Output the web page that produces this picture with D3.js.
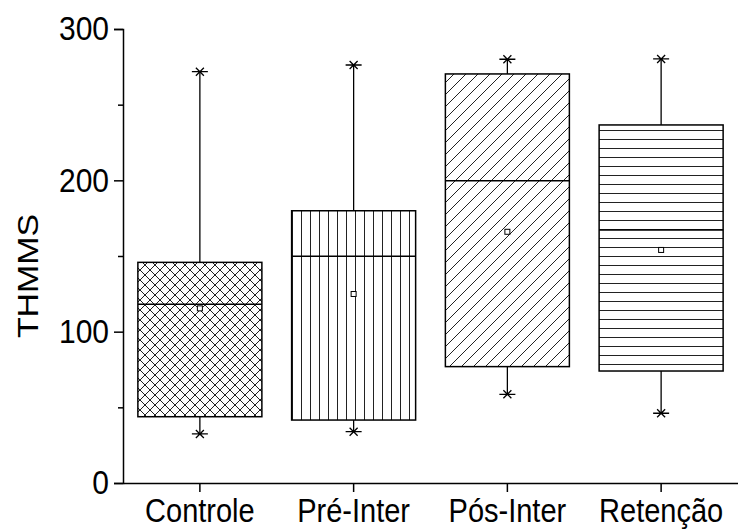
<!DOCTYPE html>
<html>
<head>
<meta charset="utf-8">
<script src="https://cdn.jsdelivr.net/npm/d3@7"></script>
<style>
  body { margin: 0; background: #fff; }
  text { font-family: "Liberation Sans", Arial, sans-serif; fill: #000; }
</style>
</head>
<body>
<svg id="chart" width="738" height="529"></svg>
<script>
// data
var groups = ["Controle", "Pré-Inter", "Pós-Inter", "Retenção"];
var minVals = [32.4, 33.9, 58.6, 46.1];
var q1Vals = [43.8, 41.6, 76.9, 74];
var medianVals = [118.1, 149.8, 199.8, 167.2];
var meanVals = [115.4, 124.9, 166, 154];
var q3Vals = [145.8, 179.9, 270.3, 236.6];
var maxVals = [271.8, 276.2, 280, 280.2];
var yTicks = [0, 100, 200, 300];
var yMinorTicks = [50, 150, 250];
var patternIds = ["cross", "vert", "diag", "horiz"];

var svg = d3.select('#chart');

var x = d3.scaleBand()
  .domain(groups)
  .range([123, 738]);

var y = d3.scaleLinear()
  .domain([0, 300])
  .range([483, 29]);

var boxW = 124;
var stretch = 1.13; // text in the original looks a bit tall

// hatch patterns
var defs = svg.append('defs');
var makePattern = function(id, size, paths){
  var p = defs.append('pattern')
    .attr('id', id)
    .attr('patternUnits', 'userSpaceOnUse')
    .attr('width', size)
    .attr('height', size);
  p.append('rect').attr('width', size).attr('height', size).attr('fill', '#fff');
  paths.forEach(function(d){
    p.append('path')
      .attr('d', d)
      .attr('stroke', '#222')
      .attr('stroke-width', 1)
      .attr('fill', 'none');
  });
}
makePattern('cross', 10, ['M0,0L10,10M-5,5L5,15M5,-5L15,5', 'M0,10L10,0M-5,5L5,-5M5,15L15,5']);
makePattern('vert', 9, ['M4.5,0V9']);
makePattern('diag', 12, ['M0,12L12,0M-6,6L6,-6M6,18L18,6']);
makePattern('horiz', 9, ['M0,4.5H9']);

var data = groups.map(function(g, i){
  return {name: g, min: minVals[i], q1: q1Vals[i], med: medianVals[i],
    mean: meanVals[i], q3: q3Vals[i], max: maxVals[i], pat: patternIds[i]};
});

var cx = function(d){ return x(d.name) + x.bandwidth()/2; };

var boxes = svg.selectAll('.box')
  .data(data)
  .enter()
  .append('g')
  .attr('class', 'box');

// whiskers
boxes.append('line')
  .attr('x1', cx).attr('x2', cx)
  .attr('y1', function(d){ return y(d.q3); })
  .attr('y2', function(d){ return y(d.max); })
  .attr('stroke', '#000').attr('stroke-width', 1.3);
boxes.append('line')
  .attr('x1', cx).attr('x2', cx)
  .attr('y1', function(d){ return y(d.q1); })
  .attr('y2', function(d){ return y(d.min); })
  .attr('stroke', '#000').attr('stroke-width', 1.3);

boxes.append('rect')
  .attr('x', function(d){ return cx(d) - boxW/2; })
  .attr('y', function(d){ return y(d.q3); })
  .attr('width', boxW)
  .attr('height', function(d){ return y(d.q1) - y(d.q3); })
  .attr('fill', function(d){ return 'url(#' + d.pat + ')'; })
  .attr('stroke', '#000')
  .attr('stroke-width', 1.5);

boxes.append('line')
  .attr('x1', function(d){ return cx(d) - boxW/2; })
  .attr('x2', function(d){ return cx(d) + boxW/2; })
  .attr('y1', function(d){ return y(d.med); })
  .attr('y2', function(d){ return y(d.med); })
  .attr('stroke', '#000').attr('stroke-width', 1.5);

// mean square
boxes.append('rect')
  .attr('x', function(d){ return cx(d) - 2.5; })
  .attr('y', function(d){ return y(d.mean) - 2.5; })
  .attr('width', 5).attr('height', 5)
  .attr('fill', '#fff')
  .attr('stroke', '#000').attr('stroke-width', 1);

// star markers at min and max
var star = function(sel, key){
  sel.append('path')
    .attr('transform', function(d){ return 'translate(' + cx(d) + ',' + y(d[key]) + ')'; })
    .attr('d', 'M-8,0H8M-4,-4L4,4M-4,4L4,-4')
    .attr('stroke', '#000')
    .attr('stroke-width', 1.3);
}
star(boxes, 'min');
star(boxes, 'max');

// axes
var yAxis = svg.append('g')
  .attr('transform', 'translate(123,0)')
  .call(d3.axisLeft(y).tickValues(yTicks).tickSize(9).tickPadding(5).tickFormat(d3.format('d')));
svg.append('g')
  .attr('transform', 'translate(123,0)')
  .call(d3.axisLeft(y).tickValues(yMinorTicks).tickSize(5).tickFormat(''))
  .select('.domain').remove();

var xAxis = svg.append('g')
  .attr('transform', 'translate(0,483)')
  .call(d3.axisBottom(x).tickSize(9).tickPadding(5).tickSizeOuter(0));

svg.selectAll('.domain, .tick line')
  .attr('stroke', '#000')
  .attr('stroke-width', 1.5);

yAxis.selectAll('text')
  .attr('font-size', 30)
  .attr('font-family', '"Liberation Sans", Arial, sans-serif')
  .attr('transform', 'scale(1,' + stretch + ')');
xAxis.selectAll('text')
  .attr('font-size', 29)
  .attr('font-family', '"Liberation Sans", Arial, sans-serif')
  .attr('transform', 'scale(1,' + stretch + ')');

// y label
svg.append('text')
  .attr('transform', 'translate(38,276) scale(1,' + stretch + ') rotate(-90)')
  .attr('text-anchor', 'middle')
  .attr('font-size', 30)
  .text('THMMS');
</script>
</body>
</html>
